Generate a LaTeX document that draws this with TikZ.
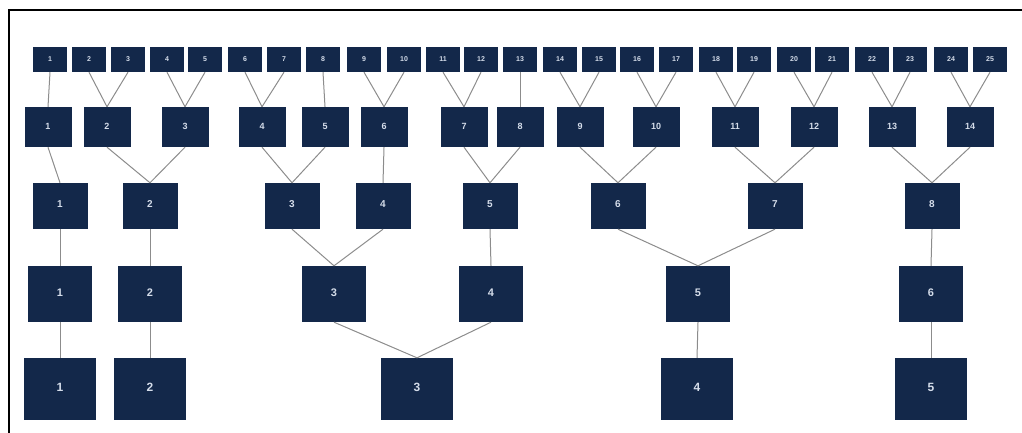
\documentclass[tikz,border=0pt]{standalone}
\usepackage{fontspec}
\setmainfont{Liberation Sans}
\definecolor{boxfill}{HTML}{13284A}
\definecolor{boxtext}{HTML}{D5DDEA}
\definecolor{linkgray}{HTML}{8C8C8C}
\tikzset{
  cell/.style={draw=none, fill=boxfill, text=boxtext, inner sep=0pt, font=\bfseries},
  rowa/.style={cell, minimum width=34pt, minimum height=25pt, font=\bfseries\fontsize{7}{7}\selectfont},
  rowb/.style={cell, minimum width=47pt, minimum height=40pt, font=\bfseries\fontsize{9}{9}\selectfont},
  rowc/.style={cell, minimum width=55pt, minimum height=46pt, font=\bfseries\fontsize{10}{10}\selectfont},
  rowd/.style={cell, minimum width=64pt, minimum height=56pt, font=\bfseries\fontsize{11}{11}\selectfont},
  rowe/.style={cell, minimum width=72pt, minimum height=62pt, font=\bfseries\fontsize{12}{12}\selectfont},
  link/.style={draw=linkgray, line width=1pt},
  frame/.style={draw=black, line width=1.3pt}
}
\begin{document}
\begin{tikzpicture}[x=1pt,y=-1pt]
\useasboundingbox (0,0) rectangle (1022,433);
\coordinate (fa) at (9,433);
\coordinate (fb) at (9,10);
\coordinate (fc) at (1022,10);
\draw[frame] (fa) -- (fb) -- (fc);
% row 1
\foreach \i/\x in {1/50,2/89,3/128,4/167,5/205,6/245,7/284,8/323,9/364,10/404,11/443,12/481,13/520,14/560,15/599,16/637,17/676,18/716,19/754,20/794,21/832,22/872,23/910,24/951,25/990}
  \node[rowa] (a\i) at (\x,59.5) {\raisebox{1.5pt}{\i}};
% row 2
\foreach \i/\x in {1/48,2/107,3/185,4/262,5/325,6/384,7/464,8/520,9/580,10/656,11/735,12/814,13/892,14/970}
  \node[rowb] (b\i) at (\x,127) {\raisebox{2pt}{\i}};
% row 3
\foreach \i/\x in {1/60,2/150,3/292,4/383,5/490,6/618,7/775,8/932}
  \node[rowc] (c\i) at (\x,206) {\raisebox{3pt}{\i}};
% row 4
\foreach \i/\x in {1/60,2/150,3/334,4/491,5/698,6/931}
  \node[rowd] (d\i) at (\x,294) {\raisebox{3pt}{\i}};
% row 5
\foreach \i/\x in {1/60,2/150,3/417,4/697,5/931}
  \node[rowe] (e\i) at (\x,389) {\raisebox{4pt}{\i}};
% links row1 -> row2
\foreach \c/\p in {1/1,2/2,3/2,4/3,5/3,6/4,7/4,8/5,9/6,10/6,11/7,12/7,13/8,14/9,15/9,16/10,17/10,18/11,19/11,20/12,21/12,22/13,23/13,24/14,25/14}
  \draw[link] (a\c.south) -- (b\p.north);
% links row2 -> row3
\foreach \c/\p in {1/1,2/2,3/2,4/3,5/3,6/4,7/5,8/5,9/6,10/6,11/7,12/7,13/8,14/8}
  \draw[link] (b\c.south) -- (c\p.north);
% links row3 -> row4
\foreach \c/\p in {1/1,2/2,3/3,4/3,5/4,6/5,7/5,8/6}
  \draw[link] (c\c.south) -- (d\p.north);
% links row4 -> row5
\foreach \c/\p in {1/1,2/2,3/3,4/3,5/4,6/5}
  \draw[link] (d\c.south) -- (e\p.north);
\end{tikzpicture}
\end{document}
